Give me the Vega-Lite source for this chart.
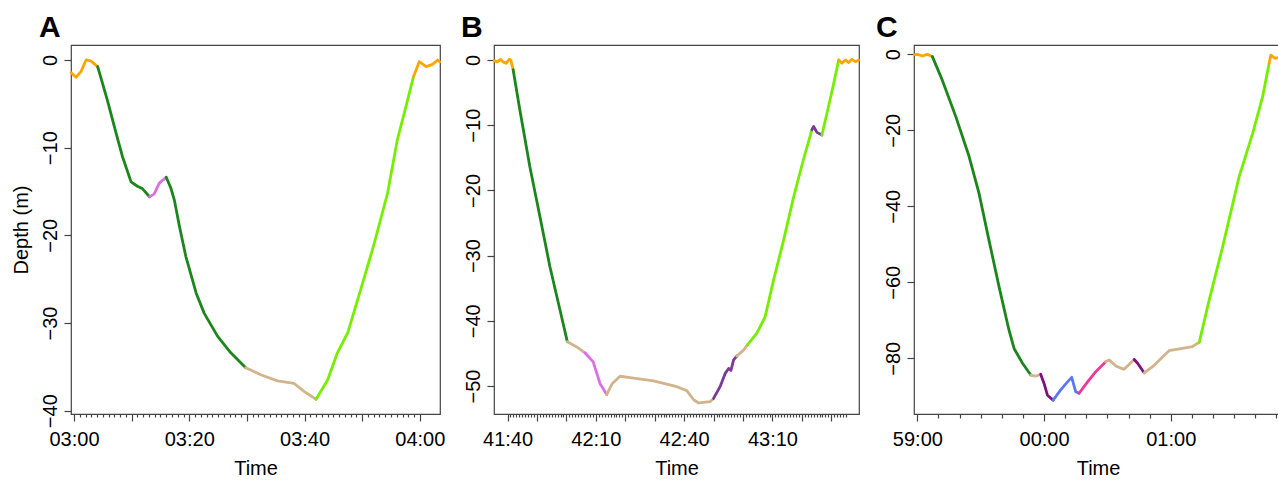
{
"$schema": "https://vega.github.io/schema/vega-lite/v6.json",
"padding": {"left": 10, "top": 12, "right": 0, "bottom": 0},
"config": {
  "font": "Liberation Sans",
  "view": {"stroke": "#444", "strokeWidth": 1.2},
  "axis": {"grid": false, "domain": false, "tickColor": "#444", "tickWidth": 1.2, "labelColor": "#000", "titleColor": "#000", "labelFontSize": 20, "titleFontSize": 20, "titleFontWeight": "normal", "labelOverlap": false, "labelFlush": false, "labelBound": false},
  "title": {"fontSize": 30, "fontWeight": "bold", "color": "#000", "anchor": "start", "offset": 2, "frame": "group"}
},
"datasets": {
"A": [
{"seg":"A1","beh":"surface","t":179.5,"depth":-1.45},{"seg":"A1","beh":"surface","t":180.35,"depth":-1.97},{"seg":"A1","beh":"surface","t":181.2,"depth":-1.33},{"seg":"A1","beh":"surface","t":182.1,"depth":0},{"seg":"A1","beh":"surface","t":182.9,"depth":-0.1},{"seg":"A1","beh":"surface","t":184.1,"depth":-0.76},
{"seg":"A2","beh":"descent","t":184.1,"depth":-0.76},{"seg":"A2","beh":"descent","t":184.7,"depth":-2.1},{"seg":"A2","beh":"descent","t":185.8,"depth":-4.6},{"seg":"A2","beh":"descent","t":187.3,"depth":-8.35},{"seg":"A2","beh":"descent","t":188.4,"depth":-11.0},{"seg":"A2","beh":"descent","t":189.9,"depth":-13.9},{"seg":"A2","beh":"descent","t":191.0,"depth":-14.4},{"seg":"A2","beh":"descent","t":191.9,"depth":-14.7},{"seg":"A2","beh":"descent","t":193.1,"depth":-15.6},
{"seg":"A3","beh":"orchid","t":193.1,"depth":-15.6},{"seg":"A3","beh":"orchid","t":193.9,"depth":-15.3},{"seg":"A3","beh":"orchid","t":194.8,"depth":-14.05},{"seg":"A3","beh":"orchid","t":196.0,"depth":-13.37},
{"seg":"A4","beh":"descent","t":196.0,"depth":-13.37},{"seg":"A4","beh":"descent","t":196.8,"depth":-14.6},{"seg":"A4","beh":"descent","t":197.4,"depth":-15.95},{"seg":"A4","beh":"descent","t":198.3,"depth":-19.0},{"seg":"A4","beh":"descent","t":199.4,"depth":-22.4},{"seg":"A4","beh":"descent","t":201.2,"depth":-26.6},{"seg":"A4","beh":"descent","t":202.6,"depth":-28.9},{"seg":"A4","beh":"descent","t":204.9,"depth":-31.5},{"seg":"A4","beh":"descent","t":207.2,"depth":-33.4},{"seg":"A4","beh":"descent","t":209.8,"depth":-35.1},
{"seg":"A5","beh":"bottom","t":209.8,"depth":-35.1},{"seg":"A5","beh":"bottom","t":212.4,"depth":-35.9},{"seg":"A5","beh":"bottom","t":215.3,"depth":-36.6},{"seg":"A5","beh":"bottom","t":218.2,"depth":-36.9},{"seg":"A5","beh":"bottom","t":219.9,"depth":-37.8},{"seg":"A5","beh":"bottom","t":222.0,"depth":-38.7},
{"seg":"A6","beh":"ascent","t":222.0,"depth":-38.7},{"seg":"A6","beh":"ascent","t":224.0,"depth":-36.5},{"seg":"A6","beh":"ascent","t":225.7,"depth":-33.4},{"seg":"A6","beh":"ascent","t":227.5,"depth":-31.1},{"seg":"A6","beh":"ascent","t":230.1,"depth":-25.4},{"seg":"A6","beh":"ascent","t":232.1,"depth":-20.9},{"seg":"A6","beh":"ascent","t":234.4,"depth":-15.2},{"seg":"A6","beh":"ascent","t":236.1,"depth":-9.1},{"seg":"A6","beh":"ascent","t":237.6,"depth":-5.3},{"seg":"A6","beh":"ascent","t":238.9,"depth":-1.9},
{"seg":"A7","beh":"surface","t":238.9,"depth":-1.9},{"seg":"A7","beh":"surface","t":239.9,"depth":-0.19},{"seg":"A7","beh":"surface","t":241.1,"depth":-0.76},{"seg":"A7","beh":"surface","t":242.2,"depth":-0.5},{"seg":"A7","beh":"surface","t":243.1,"depth":0},{"seg":"A7","beh":"surface","t":243.45,"depth":-0.2}
],
"B": [
{"seg":"B1","beh":"surface","t":2495.5,"depth":-0.1},{"seg":"B1","beh":"surface","t":2496.5,"depth":-0.3},{"seg":"B1","beh":"surface","t":2497.6,"depth":0.1},{"seg":"B1","beh":"surface","t":2498.5,"depth":-0.3},{"seg":"B1","beh":"surface","t":2499.5,"depth":-0.5},{"seg":"B1","beh":"surface","t":2500.6,"depth":0.1},{"seg":"B1","beh":"surface","t":2501.1,"depth":0},{"seg":"B1","beh":"surface","t":2501.9,"depth":-1.5},
{"seg":"B2","beh":"descent","t":2501.9,"depth":-1.5},{"seg":"B2","beh":"descent","t":2504.2,"depth":-7.7},{"seg":"B2","beh":"descent","t":2507.6,"depth":-16.4},{"seg":"B2","beh":"descent","t":2511.0,"depth":-24.0},{"seg":"B2","beh":"descent","t":2514.4,"depth":-31.7},{"seg":"B2","beh":"descent","t":2517.8,"depth":-38.3},{"seg":"B2","beh":"descent","t":2520.3,"depth":-43.2},
{"seg":"B3","beh":"bottom","t":2520.3,"depth":-43.2},{"seg":"B3","beh":"bottom","t":2523.5,"depth":-44.0},{"seg":"B3","beh":"bottom","t":2526.3,"depth":-44.9},
{"seg":"B4","beh":"orchid","t":2526.3,"depth":-44.9},{"seg":"B4","beh":"orchid","t":2529.1,"depth":-46.3},{"seg":"B4","beh":"orchid","t":2531.4,"depth":-49.6},{"seg":"B4","beh":"orchid","t":2533.7,"depth":-51.3},
{"seg":"B5","beh":"bottom","t":2533.7,"depth":-51.3},{"seg":"B5","beh":"bottom","t":2535.6,"depth":-49.6},{"seg":"B5","beh":"bottom","t":2538.2,"depth":-48.5},{"seg":"B5","beh":"bottom","t":2541.6,"depth":-48.7},{"seg":"B5","beh":"bottom","t":2549.6,"depth":-49.2},{"seg":"B5","beh":"bottom","t":2557.5,"depth":-50.1},{"seg":"B5","beh":"bottom","t":2560.9,"depth":-50.7},{"seg":"B5","beh":"bottom","t":2563.2,"depth":-52.1},{"seg":"B5","beh":"bottom","t":2564.9,"depth":-52.6},{"seg":"B5","beh":"bottom","t":2568.8,"depth":-52.4},{"seg":"B5","beh":"bottom","t":2570.0,"depth":-51.9},
{"seg":"B6","beh":"purple","t":2570.0,"depth":-51.9},{"seg":"B6","beh":"purple","t":2572.2,"depth":-50.1},{"seg":"B6","beh":"purple","t":2573.9,"depth":-48.1},{"seg":"B6","beh":"purple","t":2575.1,"depth":-47.3},{"seg":"B6","beh":"purple","t":2575.9,"depth":-47.6},{"seg":"B6","beh":"purple","t":2576.8,"depth":-46.0},{"seg":"B6","beh":"purple","t":2577.9,"depth":-45.4},
{"seg":"B7","beh":"bottom","t":2577.9,"depth":-45.4},{"seg":"B7","beh":"bottom","t":2580.2,"depth":-44.5},{"seg":"B7","beh":"bottom","t":2581.5,"depth":-43.7},
{"seg":"B8","beh":"ascent","t":2581.5,"depth":-43.7},{"seg":"B8","beh":"ascent","t":2584.7,"depth":-41.9},{"seg":"B8","beh":"ascent","t":2587.5,"depth":-39.4},{"seg":"B8","beh":"ascent","t":2590.4,"depth":-33.7},{"seg":"B8","beh":"ascent","t":2593.8,"depth":-27.6},{"seg":"B8","beh":"ascent","t":2597.2,"depth":-21.0},{"seg":"B8","beh":"ascent","t":2600.5,"depth":-15.3},{"seg":"B8","beh":"ascent","t":2603.4,"depth":-10.7},
{"seg":"B9","beh":"purple","t":2603.4,"depth":-10.7},{"seg":"B9","beh":"purple","t":2604.0,"depth":-10.2},{"seg":"B9","beh":"purple","t":2605.1,"depth":-11.1},{"seg":"B9","beh":"purple","t":2606.8,"depth":-11.5},
{"seg":"B10","beh":"ascent","t":2606.8,"depth":-11.5},{"seg":"B10","beh":"ascent","t":2608.5,"depth":-8.2},{"seg":"B10","beh":"ascent","t":2610.8,"depth":-3.6},{"seg":"B10","beh":"ascent","t":2612.5,"depth":0},
{"seg":"B11","beh":"surface","t":2612.5,"depth":0},{"seg":"B11","beh":"surface","t":2613.6,"depth":-0.5},{"seg":"B11","beh":"surface","t":2614.8,"depth":0},{"seg":"B11","beh":"surface","t":2615.9,"depth":-0.4},{"seg":"B11","beh":"surface","t":2617.0,"depth":0.1},{"seg":"B11","beh":"surface","t":2618.2,"depth":-0.25},{"seg":"B11","beh":"surface","t":2619.3,"depth":0}
],
"C": [
{"seg":"C1","beh":"surface","t":3538.6,"depth":-0.1},{"seg":"C1","beh":"surface","t":3540.0,"depth":0},{"seg":"C1","beh":"surface","t":3542.4,"depth":-0.45},{"seg":"C1","beh":"surface","t":3544.7,"depth":0},{"seg":"C1","beh":"surface","t":3547.1,"depth":-0.6},
{"seg":"C2","beh":"descent","t":3547.1,"depth":-0.6},{"seg":"C2","beh":"descent","t":3551.8,"depth":-6.8},{"seg":"C2","beh":"descent","t":3558.2,"depth":-16.4},{"seg":"C2","beh":"descent","t":3564.5,"depth":-26.9},{"seg":"C2","beh":"descent","t":3569.2,"depth":-36.6},{"seg":"C2","beh":"descent","t":3573.9,"depth":-48.9},{"seg":"C2","beh":"descent","t":3578.7,"depth":-61.2},{"seg":"C2","beh":"descent","t":3583.4,"depth":-72.6},{"seg":"C2","beh":"descent","t":3585.8,"depth":-77.4},{"seg":"C2","beh":"descent","t":3589.8,"depth":-81.3},{"seg":"C2","beh":"descent","t":3593.7,"depth":-84.4},
{"seg":"C3","beh":"bottom","t":3593.7,"depth":-84.4},{"seg":"C3","beh":"bottom","t":3596.1,"depth":-84.7},{"seg":"C3","beh":"bottom","t":3598.4,"depth":-84.2},
{"seg":"C4","beh":"darkmagenta","t":3598.4,"depth":-84.2},{"seg":"C4","beh":"darkmagenta","t":3600.0,"depth":-86.6},{"seg":"C4","beh":"darkmagenta","t":3601.6,"depth":-89.7},{"seg":"C4","beh":"darkmagenta","t":3604.3,"depth":-91.0},
{"seg":"C5","beh":"blue","t":3604.3,"depth":-91.0},{"seg":"C5","beh":"blue","t":3607.9,"depth":-88.3},{"seg":"C5","beh":"blue","t":3611.1,"depth":-86.2},{"seg":"C5","beh":"blue","t":3613.1,"depth":-85.0},{"seg":"C5","beh":"blue","t":3615.0,"depth":-88.8},{"seg":"C5","beh":"blue","t":3616.6,"depth":-89.2},
{"seg":"C6","beh":"pink","t":3616.6,"depth":-89.2},{"seg":"C6","beh":"pink","t":3620.6,"depth":-86.2},{"seg":"C6","beh":"pink","t":3624.5,"depth":-83.5},{"seg":"C6","beh":"pink","t":3629.2,"depth":-80.9},
{"seg":"C7","beh":"bottom","t":3629.2,"depth":-80.9},{"seg":"C7","beh":"bottom","t":3630.8,"depth":-80.4},{"seg":"C7","beh":"bottom","t":3634.0,"depth":-82.0},{"seg":"C7","beh":"bottom","t":3637.9,"depth":-82.9},{"seg":"C7","beh":"bottom","t":3642.7,"depth":-80.3},
{"seg":"C8","beh":"darkmagenta","t":3642.7,"depth":-80.3},{"seg":"C8","beh":"darkmagenta","t":3644.3,"depth":-81.3},{"seg":"C8","beh":"darkmagenta","t":3647.4,"depth":-83.8},
{"seg":"C9","beh":"bottom","t":3647.4,"depth":-83.8},{"seg":"C9","beh":"bottom","t":3651.4,"depth":-82.2},{"seg":"C9","beh":"bottom","t":3659.2,"depth":-78.0},{"seg":"C9","beh":"bottom","t":3665.6,"depth":-77.4},{"seg":"C9","beh":"bottom","t":3670.3,"depth":-76.9},{"seg":"C9","beh":"bottom","t":3673.5,"depth":-75.8},
{"seg":"C10","beh":"ascent","t":3673.5,"depth":-75.8},{"seg":"C10","beh":"ascent","t":3678.2,"depth":-64.7},{"seg":"C10","beh":"ascent","t":3684.6,"depth":-50.6},{"seg":"C10","beh":"ascent","t":3692.4,"depth":-32.2},{"seg":"C10","beh":"ascent","t":3698.8,"depth":-20.8},{"seg":"C10","beh":"ascent","t":3703.5,"depth":-11.2},{"seg":"C10","beh":"ascent","t":3706.6,"depth":-2.4},
{"seg":"C11","beh":"surface","t":3706.6,"depth":-2.4},{"seg":"C11","beh":"surface","t":3707.4,"depth":-0.2},{"seg":"C11","beh":"surface","t":3709.5,"depth":-1.05},{"seg":"C11","beh":"surface","t":3711.4,"depth":-0.8},{"seg":"C11","beh":"surface","t":3712.6,"depth":0}
]
},
"spacing": 14,
"hconcat": [
{
  "title": {"text": "A", "dx": -32},
  "data": {"name": "A"},
  "width": 369, "height": 369,
  "mark": {"type": "line", "strokeWidth": 2.8, "strokeJoin": "round", "strokeCap": "round"},
  "encoding": {
    "x": {"field": "t", "type": "quantitative", "scale": {"domain": [179.48, 243.5], "nice": false, "zero": false},
      "axis": {"title": "Time", "labelAngle": 0, "labelPadding": 8, "titlePadding": 9,
        "values": [180,181,182,183,184,185,186,187,188,189,190,191,192,193,194,195,196,197,198,199,200,201,202,203,204,205,206,207,208,209,210,211,212,213,214,215,216,217,218,219,220,221,222,223,224,225,226,227,228,229,230,231,232,233,234,235,236,237,238,239,240],
        "labelExpr": "datum.value % 20 === 0 ? utcFormat(datum.value * 1000, '%M:%S') : ''",
        "tickSize": {"condition": {"test": "datum.value % 10 === 0", "value": 7}, "value": 3}}},
    "y": {"field": "depth", "type": "quantitative", "scale": {"domain": [-40.38, 1.71], "nice": false, "zero": false},
      "axis": {"title": "Depth (m)", "values": [0, -10, -20, -30, -40], "labelAngle": 270, "labelAlign": "center", "labelBaseline": "bottom", "tickSize": 7, "labelPadding": 4, "titlePadding": 9}},
    "color": {"field": "beh", "type": "nominal", "legend": null,
      "scale": {"domain": ["surface", "descent", "ascent", "bottom", "orchid", "purple", "darkmagenta", "blue", "pink"],
        "range": ["#FFA500", "#1C861C", "#76EE00", "#D2B48C", "#DA6FE8", "#7A3A96", "#800F80", "#5A78F2", "#F0359B"]}},
    "detail": {"field": "seg"}
  }
},
{
  "title": {"text": "B", "dx": -33},
  "data": {"name": "B"},
  "width": 365, "height": 369,
  "mark": {"type": "line", "strokeWidth": 2.8, "strokeJoin": "round", "strokeCap": "round"},
  "encoding": {
    "x": {"field": "t", "type": "quantitative", "scale": {"domain": [2495.4, 2619.4], "nice": false, "zero": false},
      "axis": {"title": "Time", "labelAngle": 0, "labelPadding": 8, "titlePadding": 9,
        "values": [2500,2501,2502,2503,2504,2505,2506,2507,2508,2509,2510,2511,2512,2513,2514,2515,2516,2517,2518,2519,2520,2521,2522,2523,2524,2525,2526,2527,2528,2529,2530,2531,2532,2533,2534,2535,2536,2537,2538,2539,2540,2541,2542,2543,2544,2545,2546,2547,2548,2549,2550,2551,2552,2553,2554,2555,2556,2557,2558,2559,2560,2561,2562,2563,2564,2565,2566,2567,2568,2569,2570,2571,2572,2573,2574,2575,2576,2577,2578,2579,2580,2581,2582,2583,2584,2585,2586,2587,2588,2589,2590,2591,2592,2593,2594,2595,2596,2597,2598,2599,2600,2601,2602,2603,2604,2605,2606,2607,2608,2609,2610,2611,2612,2613,2614,2615],
        "labelExpr": "datum.value % 30 === 10 ? utcFormat(datum.value * 1000, '%M:%S') : ''",
        "tickSize": {"condition": {"test": "datum.value % 10 === 0", "value": 7}, "value": 3}}},
    "y": {"field": "depth", "type": "quantitative", "scale": {"domain": [-54.29, 2.3], "nice": false, "zero": false},
      "axis": {"title": null, "values": [0, -10, -20, -30, -40, -50], "labelAngle": 270, "labelAlign": "center", "labelBaseline": "bottom", "tickSize": 7, "labelPadding": 4}},
    "color": {"field": "beh", "type": "nominal", "legend": null,
      "scale": {"domain": ["surface", "descent", "ascent", "bottom", "orchid", "purple", "darkmagenta", "blue", "pink"],
        "range": ["#FFA500", "#1C861C", "#76EE00", "#D2B48C", "#DA6FE8", "#7A3A96", "#800F80", "#5A78F2", "#F0359B"]}},
    "detail": {"field": "seg"}
  }
},
{
  "title": {"text": "C", "dx": -38},
  "data": {"name": "C"},
  "width": 368, "height": 369,
  "mark": {"type": "line", "strokeWidth": 2.8, "strokeJoin": "round", "strokeCap": "round"},
  "encoding": {
    "x": {"field": "t", "type": "quantitative", "scale": {"domain": [3538.4, 3712.7], "nice": false, "zero": false},
      "axis": {"title": "Time", "labelAngle": 0, "labelPadding": 8, "titlePadding": 9,
        "values": [3540,3550,3560,3570,3580,3590,3600,3610,3620,3630,3640,3650,3660,3670,3680,3690,3700,3710],
        "labelExpr": "datum.value % 60 === 0 ? utcFormat(datum.value * 1000, '%M:%S') : ''",
        "tickSize": {"condition": {"test": "datum.value % 60 === 0", "value": 7}, "value": 4}}},
    "y": {"field": "depth", "type": "quantitative", "scale": {"domain": [-94.65, 2.45], "nice": false, "zero": false},
      "axis": {"title": null, "values": [0, -20, -40, -60, -80], "labelAngle": 270, "labelAlign": "center", "labelBaseline": "bottom", "tickSize": 7, "labelPadding": 4}},
    "color": {"field": "beh", "type": "nominal", "legend": null,
      "scale": {"domain": ["surface", "descent", "ascent", "bottom", "orchid", "purple", "darkmagenta", "blue", "pink"],
        "range": ["#FFA500", "#1C861C", "#76EE00", "#D2B48C", "#DA6FE8", "#7A3A96", "#800F80", "#5A78F2", "#F0359B"]}},
    "detail": {"field": "seg"}
  }
}
]
}
